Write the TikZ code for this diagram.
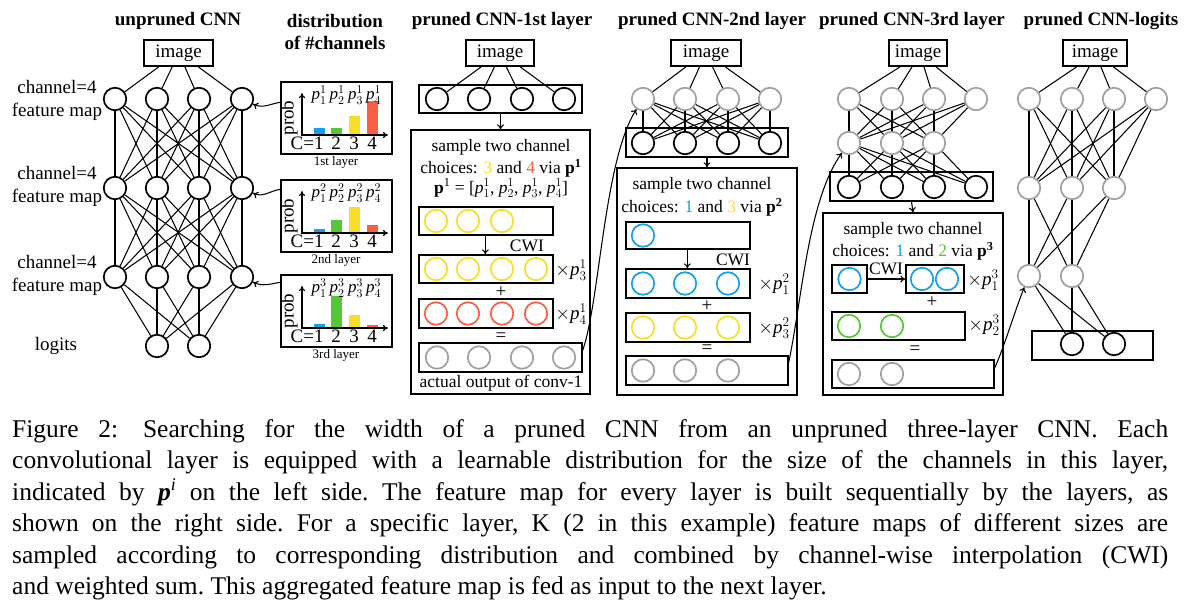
\documentclass[tikz,border=0pt]{standalone}
\usepackage{fix-cm}
\usepackage{fontspec}
\setmainfont{Liberation Serif}
\usetikzlibrary{arrows.meta,calc,fit}
\definecolor{cblue}{RGB}{20,160,235}
\definecolor{cgreen}{RGB}{85,200,55}
\definecolor{cyellow}{RGB}{248,222,40}
\definecolor{cred}{RGB}{250,95,70}
\definecolor{cgray}{RGB}{160,160,160}
\newcommand\pp[2]{$\textit{p}_{#1}^{#2}$}
\begin{document}
\begin{tikzpicture}[x=1pt,y=-1pt,
  neu/.style={circle,draw,line width=1.7pt,minimum size=22.5pt,inner sep=0pt},
  nb/.style={neu,draw=black},
  ngy/.style={neu,draw=cgray},
  nbl/.style={neu,draw=cblue},
  nye/.style={neu,draw=cyellow},
  nre/.style={neu,draw=cred},
  ngn/.style={neu,draw=cgreen},
  f19/.style={font=\fontsize{19}{23}\selectfont},
  f17/.style={font=\fontsize{17}{20}\selectfont},
  fbx/.style={font=\fontsize{17.5}{21}\selectfont},
  ttl/.style={font=\fontsize{19}{22}\selectfont\bfseries},
  imgbox/.style={draw,line width=1.8pt,minimum height=26pt,inner sep=0pt,f19},
  frame/.style={draw,line width=1.3pt,inner sep=0pt},
  conn/.style={line width=1.05pt},
  arr/.style={line width=1.05pt,-{To[length=5pt,width=7pt]}},
]
\fill[white] (0,0) rectangle (1188,611);
\useasboundingbox (0,0) rectangle (1188,611);

% ---------------- titles
\node[ttl] (t0) at (178,21) {unpruned CNN};
\node[ttl,align=center] (t1) at (335,32) {distribution\\of \#channels};
\node[ttl] (t2) at (502,21) {pruned CNN-1st layer};
\node[ttl] (t3) at (712,21) {pruned CNN-2nd layer};
\node[ttl] (t4) at (912,21) {pruned CNN-3rd layer};
\node[ttl] (t5) at (1101,21) {pruned CNN-logits};

% ---------------- unpruned CNN
\node[imgbox,minimum width=69pt] (uimg) at (178.5,53) {image};
\foreach \i/\x in {1/115,2/157,3/199,4/242}{
  \node[nb] (ua\i) at (\x,99) {};
  \node[nb] (ub\i) at (\x,188) {};
  \node[nb] (uc\i) at (\x,277) {};
}
\node[nb] (ul1) at (157,346) {};
\node[nb] (ul2) at (199,346) {};
\foreach \i/\f in {1/0.22,2/0.41,3/0.59,4/0.78}
  \draw[conn] ($(uimg.south west)!\f!(uimg.south east)$) -- (ua\i);
\foreach \i in {1,...,4}{
  \foreach \j in {1,...,4}{
    \draw[conn] (ua\i) -- (ub\j);
    \draw[conn] (ub\i) -- (uc\j);
  }
  \draw[conn] (uc\i) -- (ul1);
  \draw[conn] (uc\i) -- (ul2);
}
\node[f19,align=center] (lab1) at (57,100) {channel=4\\feature map};
\node[f19,align=center] (lab2) at (57,186) {channel=4\\feature map};
\node[f19,align=center] (lab3) at (57,275) {channel=4\\feature map};
\node[f19] (lab4) at (56,346) {logits};

% ---------------- distributions
\foreach \k/\ty/\ha/\hb/\hc/\hd/\nm in {1/82/7/7/19/34/1st,2/180/4/13/26/8/2nd,3/275/4/32/13/3/3rd}{
  \pgfmathsetmacro\bs{\ty+53}
  \node[frame,line width=1.5pt,fit={(281,\ty) (392,\ty+72)}] (d\k) {};
  \fill[cblue] (313.5,\bs) rectangle (324.5,\bs-\ha);
  \fill[cgreen] (330.5,\bs) rectangle (341.5,\bs-\hb);
  \fill[cyellow] (348.5,\bs) rectangle (359.5,\bs-\hc);
  \fill[cred] (366.5,\bs) rectangle (377.5,\bs-\hd);
  \draw[line width=1.1pt,{To[length=5pt,width=6pt]}-{To[length=5pt,width=6pt]}] (302,\bs-42) -- (302,\bs) -- (388,\bs);
  \node[f17] (dp1\k) at (319,\bs-40) {\pp{1}{\k}};
  \node[f17] (dp2\k) at (337,\bs-40) {\pp{2}{\k}};
  \node[f17] (dp3\k) at (355.5,\bs-40) {\pp{3}{\k}};
  \node[f17] (dp4\k) at (373.5,\bs-40) {\pp{4}{\k}};
  \node[f19,rotate=90] (dpr\k) at (289,\bs-17) {prob};
  \node[f19,anchor=base east,inner sep=0pt] (dc1\k) at (323.8,\bs+14) {C=1};
  \node[f19,anchor=base,inner sep=0pt] (dc2\k) at (336,\bs+14) {2};
  \node[f19,anchor=base,inner sep=0pt] (dc3\k) at (354,\bs+14) {3};
  \node[f19,anchor=base,inner sep=0pt] (dc4\k) at (372,\bs+14) {4};
  \node[font=\fontsize{13}{15}\selectfont] (dl\k) at (336,\ty+80) {\nm\ layer};
}
\draw[arr] ($(d1.north west)+(0,21)$) to[out=190,in=-25] (ua4);
\draw[arr] ($(d2.north west)+(0,10)$) to[out=190,in=-25] (ub4);
\draw[arr] ($(d3.north west)+(0,8)$) to[out=190,in=-25] (uc4);

% ---------------- pruned CNN - 1st layer
\node[imgbox,minimum width=68pt] (aimg) at (500,53) {image};
\node[frame,fit={(419,85) (582,113)}] (arow) {};
\foreach \i/\x in {1/437,2/479,3/522,4/564}
  \node[nb] (a\i) at (\x,99) {};
\foreach \i/\f in {1/0.23,2/0.42,3/0.59,4/0.79}
  \draw[conn] ($(aimg.south west)!\f!(aimg.south east)$) -- (a\i);
\node[frame,fit={(411,130) (590,394)}] (abig) {};
\draw[arr] (arow.south) -- (abig.north);
\node[fbx] (atx1) at (501,147) {sample two channel};
\node[fbx] (atx2) at (501,168) {choices: \textcolor{cyellow}{3} and \textcolor{cred}{4} via \textbf{p\textsuperscript{1}}};
\node[fbx] (atx3) at (501,188) {\textbf{p}\textsuperscript{1} = [\pp{1}{1}, \pp{2}{1}, \pp{3}{1}, \pp{4}{1}]};
\node[frame,fit={(419,207) (553,235)}] (aA) {};
\foreach \i/\x in {1/436,2/468,3/502} \node[nye] (aA\i) at (\x,221) {};
\node[frame,fit={(419,255) (553,283)}] (aB) {};
\foreach \i/\x in {1/436,2/468,3/502,4/536} \node[nye] (aB\i) at (\x,269) {};
\draw[arr] ($(aA.south west)+(67,0)$) -- ($(aB.north west)+(67,0)$);
\node[fbx] (acwi) at (527,246) {CWI};
\node[f19] (am1) at (571,270) {$\times$\pp{3}{1}};
\node[f19] (aplus) at (501,292) {+};
\node[frame,fit={(419,299) (553,328)}] (aC) {};
\foreach \i/\x in {1/436,2/468,3/502,4/536} \node[nre] (aC\i) at (\x,313.5) {};
\node[f19] (am2) at (571,314) {$\times$\pp{4}{1}};
\node[f19] (aeq) at (501,337) {=};
\node[frame,fit={(419,343) (582,372)}] (aD) {};
\foreach \i/\x in {1/437,2/479,3/522,4/564} \node[ngy] (aD\i) at (\x,357.5) {};
\node[fbx] (aout) at (501,383) {actual output of conv-1};

% ---------------- pruned CNN - 2nd layer
\node[imgbox,minimum width=70pt] (bimg) at (706,53) {image};
\foreach \i/\x in {1/643,2/685,3/728,4/770}
  \node[ngy] (bg\i) at (\x,99) {};
\node[frame,fit={(626,128) (788,157)}] (brow) {};
\foreach \i/\x in {1/643,2/685,3/728,4/770}
  \node[nb] (bb\i) at (\x,143) {};
\foreach \i/\f in {1/0.22,2/0.41,3/0.59,4/0.77}
  \draw[conn] ($(bimg.south west)!\f!(bimg.south east)$) -- (bg\i);
\foreach \i in {1,...,4}
  \foreach \j in {1,...,4}
    \draw[conn] (bg\i) -- (bb\j);
\node[frame,fit={(617,168) (797,395)}] (bbig) {};
\draw[arr] (brow.south) -- (bbig.north);
\node[fbx] (btx1) at (702,185) {sample two channel};
\node[fbx] (btx2) at (702,207) {choices: \textcolor{cblue}{1} and \textcolor{cyellow}{3} via \textbf{p\textsuperscript{2}}};
\node[frame,fit={(626,222) (750,249)}] (bA) {};
\node[nbl] (bA1) at (643,235.5) {};
\node[frame,fit={(626,269) (750,298)}] (bB) {};
\foreach \i/\x in {1/643,2/685,3/728} \node[nbl] (bB\i) at (\x,283.5) {};
\draw[arr] ($(bA.south west)+(62,0)$) -- ($(bB.north west)+(62,0)$);
\node[fbx] (bcwi) at (733,260) {CWI};
\node[f19] (bm1) at (774,284) {$\times$\pp{1}{2}};
\node[f19] (bplus) at (707,306) {+};
\node[frame,fit={(626,313) (750,342)}] (bC) {};
\foreach \i/\x in {1/643,2/685,3/728} \node[nye] (bC\i) at (\x,327.5) {};
\node[f19] (bm2) at (774,328) {$\times$\pp{3}{2}};
\node[f19] (beq) at (707,349) {=};
\node[frame,fit={(626,356) (788,385)}] (bD) {};
\foreach \i/\x in {1/643,2/685,3/728} \node[ngy] (bD\i) at (\x,370.5) {};

% ---------------- pruned CNN - 3rd layer
\node[imgbox,minimum width=58pt] (cimg) at (918,53) {image};
\foreach \i/\x in {1/849,2/892,3/934,4/976}
  \node[ngy] (cg\i) at (\x,99) {};
\foreach \i/\x in {1/849,2/892,3/934}
  \node[ngy] (cm\i) at (\x,143) {};
\node[frame,fit={(830,172) (993,201)}] (crow) {};
\foreach \i/\x in {1/849,2/892,3/934,4/976}
  \node[nb] (cb\i) at (\x,187) {};
\foreach \i/\f in {1/0.2,2/0.4,3/0.6,4/0.8}
  \draw[conn] ($(cimg.south west)!\f!(cimg.south east)$) -- (cg\i);
\foreach \i in {1,...,4}
  \foreach \j in {1,2,3}{
    \draw[conn] (cg\i) -- (cm\j);
    \draw[conn] (cm\j) -- (cb\i);
  }
\node[frame,fit={(823,213) (1003,395)}] (cbig) {};
\draw[arr] (crow.south) -- (cbig.north);
\node[fbx] (ctx1) at (913,230) {sample two channel};
\node[fbx] (ctx2) at (913,251) {choices: \textcolor{cblue}{1} and \textcolor{cgreen}{2} via \textbf{p\textsuperscript{3}}};
\node[frame,fit={(832,265) (867,293)}] (cA) {};
\node[nbl] (cA1) at (849.5,279) {};
\node[frame,fit={(906,265) (964,293)}] (cB) {};
\node[nbl] (cB1) at (922,279) {};
\node[nbl] (cB2) at (947,279) {};
\draw[arr] (cA) -- (cB);
\node[fbx,anchor=south] (ccwi) at (886,278) {CWI};
\node[f19] (cm1l) at (983,280) {$\times$\pp{1}{3}};
\node[f19] (cplus) at (932,302) {+};
\node[frame,fit={(832,312) (965,340)}] (cC) {};
\node[ngn] (cC1) at (849,326) {};
\node[ngn] (cC2) at (892,326) {};
\node[f19] (cm2l) at (984,325) {$\times$\pp{2}{3}};
\node[f19] (ceq) at (915,350) {=};
\node[frame,fit={(832,360) (994,388)}] (cD) {};
\node[ngy] (cD1) at (849,374) {};
\node[ngy] (cD2) at (892,374) {};

% ---------------- pruned CNN - logits
\node[imgbox,minimum width=64pt] (dimg) at (1095,53) {image};
\foreach \i/\x in {1/1029,2/1072,3/1114,4/1156}
  \node[ngy] (dg\i) at (\x,99) {};
\foreach \i/\x in {1/1029,2/1072,3/1114}
  \node[ngy] (dm\i) at (\x,188) {};
\node[ngy] (dn1) at (1029,276) {};
\node[ngy] (dn2) at (1072,276) {};
\node[frame,fit={(1032,331) (1153,360)}] (drow) {};
\node[nb] (dl1) at (1072,344) {};
\node[nb] (dl2) at (1114,344) {};
\foreach \i/\f in {1/0.22,2/0.41,3/0.59,4/0.78}
  \draw[conn] ($(dimg.south west)!\f!(dimg.south east)$) -- (dg\i);
\foreach \i in {1,...,4}
  \foreach \j in {1,2,3}
    \draw[conn] (dg\i) -- (dm\j);
\foreach \i in {1,2,3}
  \foreach \j in {1,2}
    \draw[conn] (dm\i) -- (dn\j);
\foreach \i in {1,2}
  \foreach \j in {1,2}
    \draw[conn] (dn\i) -- (dl\j);

% ---------------- long arrows between panels
\draw[arr] ($(aD.east)+(0,-7)$) .. controls (600,300) and (604,160) .. (bg1);
\draw[arr] ($(bD.east)+(0,-8)$) .. controls (802,300) and (808,200) .. (cm1);
\draw[arr] ($(cD.east)+(0,-6)$) .. controls (1005,345) and (1015,310) .. (dn1);

% ---------------- caption
\node[anchor=base west,inner sep=0pt] (cap) at (12,437) {\parbox[t]{1156pt}{\fontsize{25.5}{31.5}\selectfont\frenchspacing\tolerance=9999\hyphenpenalty=10000
Figure 2:\hspace{0.2em} Searching for the width of a pruned CNN from an unpruned three-layer CNN. Each\linebreak
convolutional layer is equipped with a learnable distribution for the size of the channels in this layer,\linebreak
indicated by \textbf{\textit{p}}\textsuperscript{\textit{i}} on the left side. The feature map for every layer is built sequentially by the layers, as\linebreak
shown on the right side. For a specific layer, K (2 in this example) feature maps of different sizes are\linebreak
sampled according to corresponding distribution and combined by channel-wise interpolation (CWI)\linebreak
and weighted sum. This aggregated feature map is fed as input to the next layer.}};
\end{tikzpicture}
\end{document}
